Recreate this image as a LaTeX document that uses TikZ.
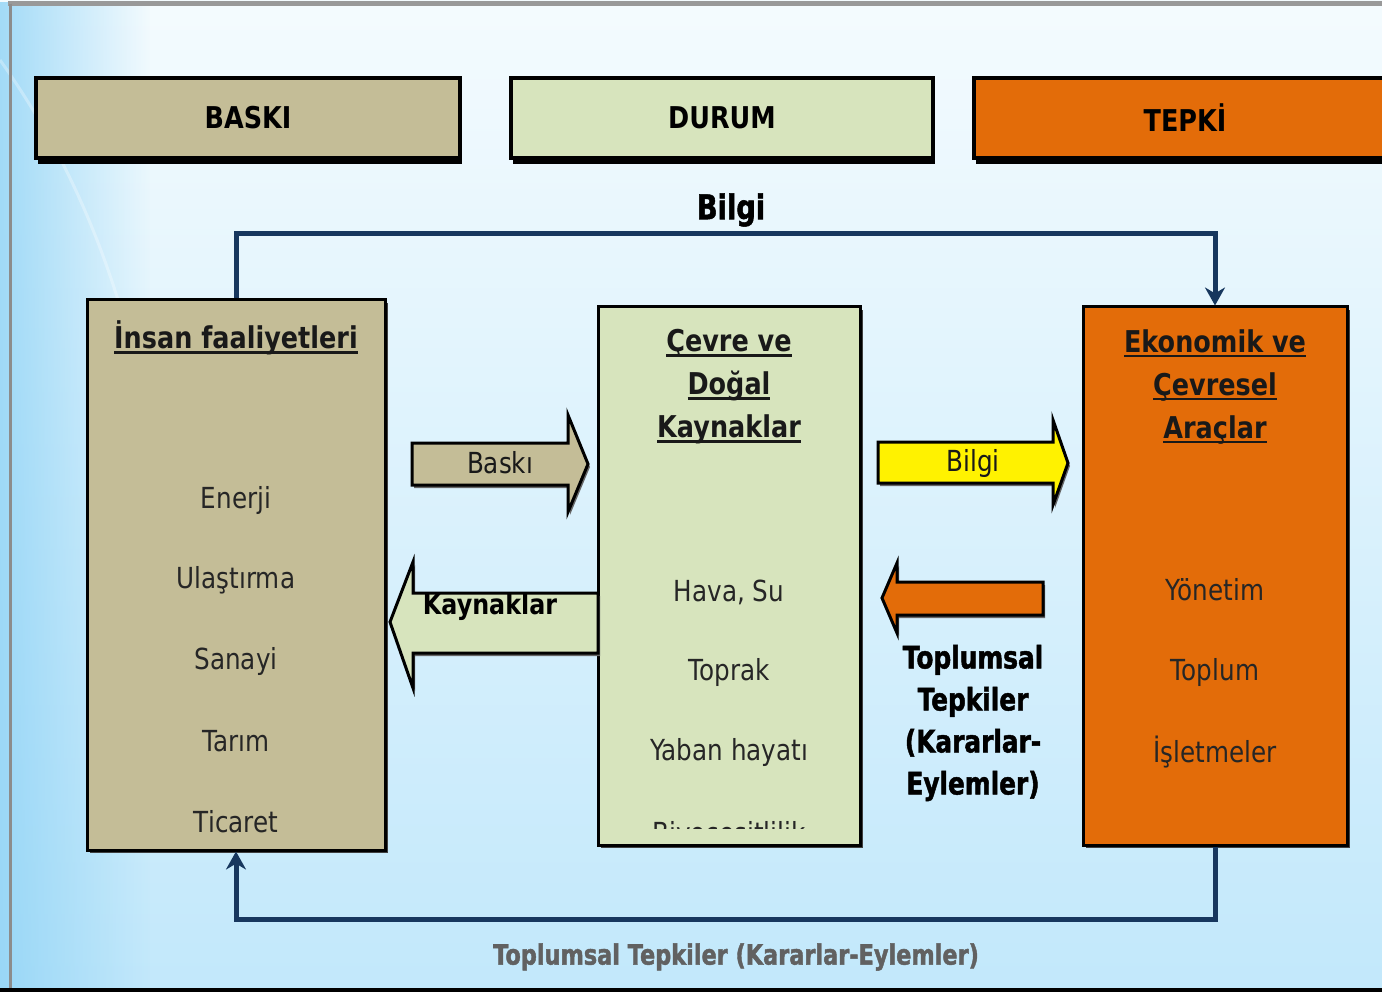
\documentclass[tikz,border=0pt]{standalone}
\usepackage{fontspec}
\setmainfont{DejaVu Sans}
\newfontfamily\nf[FakeStretch=0.85]{DejaVu Sans}
\newfontfamily\hf[FakeStretch=0.8, BoldFeatures={FakeBold=1.5}]{DejaVu Sans}
\usetikzlibrary{arrows.meta,fadings,shadows}
\definecolor{tanc}{HTML}{C4BD97}
\definecolor{lgreen}{HTML}{D7E4BD}
\definecolor{orng}{HTML}{E36C09}
\definecolor{navy}{HTML}{17375E}
\definecolor{bgtop}{HTML}{F4FBFE}
\definecolor{bgbot}{HTML}{C2E8FB}
\definecolor{sky}{HTML}{8FD3F6}
\newcommand\myul[1]{\setbox0\hbox{#1}\rlap{\rule[-5pt]{\wd0}{2.5pt}}\box0}
\tikzset{
  hdr/.style={draw=black, line width=3.5, minimum height=80, inner sep=0,
    font=\nf\bfseries\fontsize{30}{36}\selectfont,
    drop shadow={shadow xshift=2pt, shadow yshift=-6pt, fill=black, opacity=1}},
  bigbox/.style={draw=black, line width=3, inner sep=0,
    drop shadow={shadow xshift=3pt, shadow yshift=-3pt, fill=black!75, opacity=1}},
  ttl/.style={font=\nf\bfseries\fontsize{30}{43}\selectfont, align=center, text=black!90},
  item/.style={font=\nf\fontsize{29}{34}\selectfont, text=black!85},
  blk/.style={draw=black, line width=3,
    drop shadow={shadow xshift=2pt, shadow yshift=-3pt, fill=black!60, opacity=1}},
  arrtxt/.style={font=\nf\fontsize{29}{34}\selectfont, text=black!90},
  heavy/.style={font=\hf\bfseries\fontsize{31}{42}\selectfont, align=center},
  conn/.style={draw=navy, line width=5, line join=miter}
}
\begin{document}
\begin{tikzpicture}[x=1pt,y=-1pt]
\useasboundingbox (0,0) rectangle (1382,992);
% background
\shade[top color=bgtop, bottom color=bgbot] (0,0) rectangle (1382,992);
\fill[sky, path fading=east, opacity=0.8] (0,0) rectangle (150,992);
\draw[white, opacity=0.3, line width=3] (0,60) .. controls (50,130) and (90,210) .. (118,300);
\draw[black!40, line width=5] (8,4) -- (1382,4);
\draw[black!45, line width=3] (10,4) -- (10,992);
\draw[black, line width=4] (0,990) -- (1382,990);

% headers
\node[hdr, fill=tanc, minimum width=424] (baski) at (248,118) {BASKI};
\node[hdr, fill=lgreen, minimum width=422] (durum) at (722,118) {DURUM};
\node[hdr, fill=orng, minimum width=420] (tepki) at (1184,118) {};
\node[font=\nf\bfseries\fontsize{30}{36}\selectfont] (tepkit) at (1185,118) {TEPKİ};

% main boxes
\node[bigbox, fill=tanc, minimum width=298, minimum height=550] (act) at (236,575) {};
\node[bigbox, fill=lgreen, minimum width=262, minimum height=538] (env) at (729,576) {};
\node[bigbox, fill=orng, minimum width=264, minimum height=538] (eko) at (1215,576) {};

% titles
\node[ttl] (actt) at (236,338) {\myul{İnsan faaliyetleri}};
\node[ttl, anchor=north] (envt) at (729,326) {\myul{Çevre ve}\\\myul{Doğal}\\\myul{Kaynaklar}};
\node[ttl, anchor=north] (ekot) at (1215,326) {\myul{Ekonomik ve}\\\myul{Çevresel}\\\myul{Araçlar}};

% left items
\begin{scope}
\clip (87,300) rectangle (385,834);
\node[item] (i1) at (236,500) {Enerji};
\node[item] (i2) at (236,580) {Ulaştırma};
\node[item] (i3) at (236,661) {Sanayi};
\node[item] (i4) at (236,741) {Tarım};
\node[item] (i5) at (236,822) {Ticaret};
\end{scope}
% middle items
\begin{scope}
\clip (598,307) rectangle (860,828);
\node[item] (m1) at (729,592) {Hava, Su};
\node[item] (m2) at (729,672) {Toprak};
\node[item] (m3) at (729,752) {Yaban hayatı};
\node[item] (m4) at (729,835) {Biyoçeşitlilik};
\end{scope}
% right items
\node[item] (r1) at (1215,590) {Yönetim};
\node[item] (r2) at (1215,672) {Toplum};
\node[item] (r3) at (1215,752) {İşletmeler};

% block arrows
\path[blk, fill=tanc] (412,443) -- (568,443) -- (568,415) -- (588,464) -- (568,512) -- (568,485) -- (412,485) -- cycle;
\node[arrtxt] (baskil) at (500,463) {Baskı};
\path[blk, fill=lgreen] (598,593) -- (413,593) -- (413,562) -- (390,622) -- (413,688) -- (413,653) -- (598,653) -- cycle;
\node[font=\nf\bfseries\fontsize{28}{34}\selectfont] (kayl) at (490,607) {Kaynaklar};
\path[blk, fill=yellow] (878,442) -- (1053,442) -- (1053,420) -- (1068,463) -- (1053,505) -- (1053,483) -- (878,483) -- cycle;
\node[arrtxt] (bilgil) at (973,463) {Bilgi};
\path[blk, fill=orng] (1043,582) -- (897,582) -- (897,563) -- (882,598) -- (897,633) -- (897,615) -- (1043,615) -- cycle;
\node[heavy] (topl) at (973,723) {Toplumsal\\Tepkiler\\(Kararlar-\\Eylemler)};

% connectors
\draw[conn, -{Stealth[length=18pt,width=20pt]}] (act.north) -- ++(0,-65) -| (eko.north);
\draw[conn, -{Stealth[length=18pt,width=20pt]}] (eko.south) -- ++(0,73) -| (act.south);
\node[font=\hf\bfseries\fontsize{34}{40}\selectfont] (bilgit) at (731,210) {Bilgi};
\node[font=\hf\bfseries\fontsize{28}{34}\selectfont, text=black!62] (botl) at (736,957) {Toplumsal Tepkiler (Kararlar-Eylemler)};
\end{tikzpicture}
\end{document}
